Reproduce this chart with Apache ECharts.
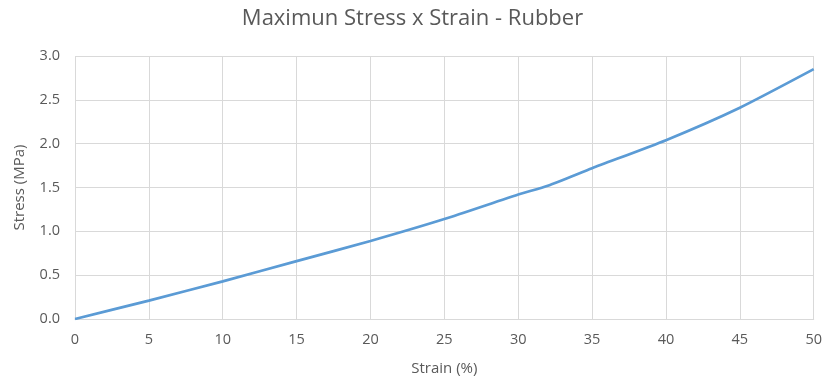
<!DOCTYPE html>
<html>
<head>
<meta charset="utf-8">
<script src="https://cdn.jsdelivr.net/npm/echarts@6/dist/echarts.min.js"></script>
<style>
  html, body { margin: 0; padding: 0; background: #fff; }
  #chart { width: 825px; height: 385px; }
</style>
</head>
<body>
<div id="chart"></div>
<script>
// Strain (%) and the measured maximum stress (MPa)
const strain = [0, 5, 10, 15, 20, 25, 30, 32, 35, 40, 45, 50];
const stress = [0, 0.21, 0.43, 0.66, 0.89, 1.14, 1.42, 1.52, 1.72, 2.04, 2.41, 2.85];

const chartTitle = 'Maximun Stress x Strain - Rubber';
const xTitle = 'Strain (%)';
const yTitle = 'Stress (MPa)';

const font = '"Open Sans", "Liberation Sans", sans-serif';
const textColor = '#595959';
const gridColor = '#D9D9D9';

const chart = echarts.init(document.getElementById('chart'));
chart.setOption({
  animation: false,
  title: {
    text: chartTitle,
    left: 'center',
    top: 3,
    textStyle: { fontFamily: font, fontSize: 22, fontWeight: 'normal', color: textColor }
  },
  grid: { left: 75, right: 10, top: 56, bottom: 66 },
  xAxis: {
    type: 'value',
    min: 0, max: 50, interval: 5,
    name: xTitle,
    nameLocation: 'middle',
    nameGap: 42,
    nameTextStyle: { fontFamily: font, fontSize: 15, color: textColor },
    axisLine: { show: true, lineStyle: { color: gridColor } },
    axisTick: { show: false },
    axisLabel: { fontFamily: font, fontSize: 14.5, color: textColor, margin: 13 },
    splitLine: { show: true, lineStyle: { color: gridColor } }
  },
  yAxis: {
    type: 'value',
    min: 0, max: 3, interval: 0.5,
    name: yTitle,
    nameLocation: 'middle',
    nameGap: 48,
    nameTextStyle: { fontFamily: font, fontSize: 15, color: textColor },
    axisLine: { show: false },
    axisTick: { show: false },
    axisLabel: { fontFamily: font, fontSize: 14.5, color: textColor, margin: 15,
                 formatter: v => v.toFixed(1) },
    splitLine: { show: true, lineStyle: { color: gridColor } }
  },
  series: [{
    type: 'line',
    data: strain.map((s, i) => [s, stress[i]]),
    showSymbol: false,
    smooth: 0.2,
    lineStyle: { color: '#5B9BD5', width: 2.75 }
  }]
});
</script>
</body>
</html>
